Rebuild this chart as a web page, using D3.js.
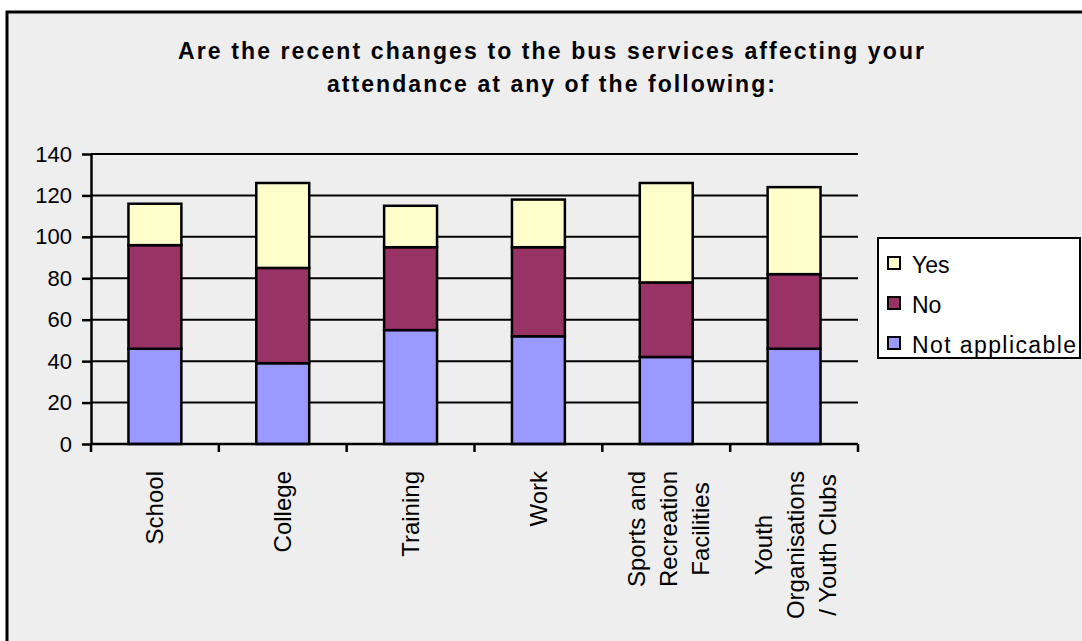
<!DOCTYPE html>
<html>
<head>
<meta charset="utf-8">
<script src="https://cdn.jsdelivr.net/npm/d3@7"></script>
<style>
  body { margin: 0; background: #ffffff; }
  svg { display: block; font-family: Arial, "Liberation Sans", sans-serif; }
</style>
</head>
<body>
<svg id="chart" width="1082" height="641"></svg>
<script>
  var categories = [
    ["School"],
    ["College"],
    ["Training"],
    ["Work"],
    ["Sports and", "Recreation", "Facilities"],
    ["Youth", "Organisations", "/ Youth Clubs"]
  ];
  var notApplicable = [46, 39, 55, 52, 42, 46];
  var noValues = [50, 46, 40, 43, 36, 36];
  var yesValues = [20, 41, 20, 23, 48, 42];
  var seriesNames = ["Not applicable", "No", "Yes"];
  var seriesColors = ["#9999ff", "#993366", "#ffffcc"];
  var yTicks = [0, 20, 40, 60, 80, 100, 120, 140];
  var titleLines = [
    "Are the recent changes to the bus services affecting your",
    "attendance at any of the following:"
  ];

  var PLOT_LEFT = 91;
  var PLOT_RIGHT = 858;
  var PLOT_TOP = 154;
  var PLOT_BOTTOM = 444;

  var svg = d3.select("#chart");

  // chart area frame
  svg.append("rect")
    .attr("x", 7).attr("y", 12)
    .attr("width", 1100).attr("height", 660)
    .style("fill", "#eeeeee")
    .style("stroke", "#000")
    .style("stroke-width", 3);

  // title
  var titleWidths = [746, 448];
  svg.selectAll("text.title")
    .data(titleLines)
    .enter().append("text")
    .classed("title", true)
    .attr("x", 551)
    .attr("y", function (d, i) { return 59 + i * 32.5; })
    .attr("text-anchor", "middle")
    .attr("textLength", function (d, i) { return titleWidths[i]; })
    .attr("lengthAdjust", "spacing")
    .style("font-size", "23px")
    .style("font-weight", "bold")
    .style("fill", "#000")
    .text(function (d) { return d; });

  var keys = categories.map(function (c) { return c.join(" "); });

  var x = d3.scaleBand()
    .domain(keys)
    .range([PLOT_LEFT, PLOT_RIGHT])
    .paddingInner(0.586)
    .paddingOuter(0.293);

  var y = d3.scaleLinear()
    .domain([0, 140])
    .range([PLOT_BOTTOM, PLOT_TOP]);

  // gridlines
  svg.append("g")
    .selectAll("line")
    .data(yTicks.filter(function (t) { return t > 0; }))
    .enter().append("line")
    .attr("x1", PLOT_LEFT).attr("x2", PLOT_RIGHT)
    .attr("y1", function (d) { return y(d); })
    .attr("y2", function (d) { return y(d); })
    .style("stroke", "#000")
    .style("stroke-width", 2);

  // stacked bars
  var rows = keys.map(function (k, i) {
    return { key: k, na: notApplicable[i], no: noValues[i], yes: yesValues[i] };
  });
  var stack = d3.stack().keys(["na", "no", "yes"]);
  var layers = stack(rows);

  svg.append("g")
    .selectAll("g")
    .data(layers)
    .enter().append("g")
    .style("fill", function (d, i) { return seriesColors[i]; })
    .selectAll("rect")
    .data(function (d) { return d; })
    .enter().append("rect")
    .attr("x", function (d) { return x(d.data.key); })
    .attr("width", x.bandwidth())
    .attr("y", function (d) { return y(d[1]); })
    .attr("height", function (d) { return y(d[0]) - y(d[1]); })
    .style("stroke", "#000")
    .style("stroke-width", 2.5);

  // y axis
  var yAxis = d3.axisLeft(y)
    .tickValues(yTicks)
    .tickSize(9)
    .tickPadding(10)
    .tickSizeOuter(0);
  var yg = svg.append("g")
    .attr("transform", "translate(" + PLOT_LEFT + ",0)")
    .call(yAxis);
  yg.select(".domain").style("stroke", "#000").style("stroke-width", 2.5);
  yg.selectAll(".tick line").style("stroke", "#000").style("stroke-width", 2.5);
  yg.selectAll(".tick text")
    .style("font-size", "22px")
    .style("font-family", "Arial, 'Liberation Sans', sans-serif")
    .style("fill", "#000");

  // x axis line and category boundary ticks
  var step = x.step();
  var boundaries = [PLOT_LEFT].concat(keys.map(function (k) {
    return x(k) + x.bandwidth() + step * x.paddingInner() / 2;
  }));

  svg.append("line")
    .attr("x1", PLOT_LEFT).attr("x2", PLOT_RIGHT)
    .attr("y1", y(0)).attr("y2", y(0))
    .style("stroke", "#000")
    .style("stroke-width", 2.5);

  svg.append("g")
    .selectAll("line")
    .data(boundaries)
    .enter().append("line")
    .attr("x1", function (d) { return d; })
    .attr("x2", function (d) { return d; })
    .attr("y1", y(0)).attr("y2", y(0) + 8)
    .style("stroke", "#000")
    .style("stroke-width", 2.5);

  // category labels (rotated, top aligned, lines centred)
  var LABEL_TOP = 471;
  var LINE_GAP = 32;
  categories.forEach(function (lines, i) {
    var cx = x(keys[i]) + x.bandwidth() / 2 + (lines.length > 1 ? 2 : 0);
    var g = svg.append("g")
      .attr("transform", "translate(" + cx + "," + LABEL_TOP + ") rotate(-90)");
    var texts = g.selectAll("text")
      .data(lines)
      .enter().append("text")
      .attr("y", function (d, j) { return (j - (lines.length - 1) / 2) * LINE_GAP; })
      .attr("dy", "0.35em")
      .attr("text-anchor", "middle")
      .style("font-size", "24px")
      .style("fill", "#000")
      .text(function (d) { return d; });
    var maxLen = 0;
    texts.each(function () { maxLen = Math.max(maxLen, this.getComputedTextLength()); });
    texts.attr("x", -maxLen / 2);
  });

  // legend
  var legendNames = seriesNames.slice().reverse();
  var legendColors = seriesColors.slice().reverse();
  var legend = svg.append("g");
  legend.append("rect")
    .attr("x", 878).attr("y", 238)
    .attr("width", 202).attr("height", 120)
    .style("fill", "#ffffff")
    .style("stroke", "#000")
    .style("stroke-width", 2);

  var items = legend.selectAll("g.item")
    .data(legendNames)
    .enter().append("g")
    .classed("item", true)
    .attr("transform", function (d, i) { return "translate(0," + (263 + i * 40) + ")"; });

  items.append("rect")
    .attr("x", 888).attr("y", -6)
    .attr("width", 12).attr("height", 12)
    .style("fill", function (d, i) { return legendColors[i]; })
    .style("stroke", "#000")
    .style("stroke-width", 2);

  items.append("text")
    .attr("x", 912)
    .attr("y", 10)
    .attr("textLength", function (d, i) { return i === 2 ? 164 : null; })
    .attr("lengthAdjust", "spacing")
    .style("font-size", "23px")
    .style("fill", "#000")
    .text(function (d) { return d; });
</script>
</body>
</html>
